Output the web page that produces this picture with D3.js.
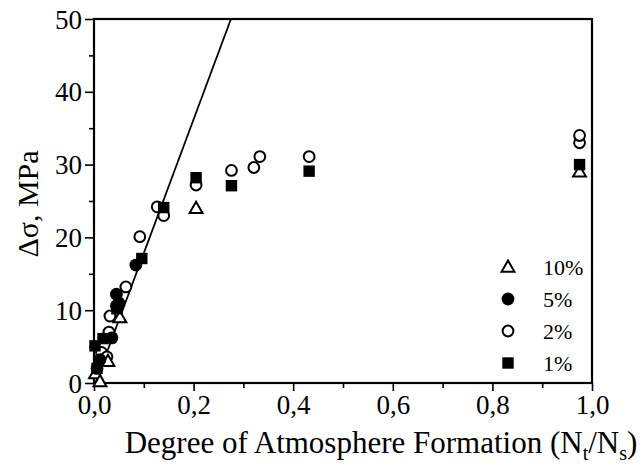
<!DOCTYPE html>
<html>
<head>
<meta charset="utf-8">
<script src="https://cdn.jsdelivr.net/npm/d3@7"></script>
</head>
<body style="margin:0;background:#fff">
<svg id="chart" width="643" height="468"></svg>
<script>
// series data: [x, y]
const tri10 = [[0.003, 1.3], [0.012, 0.2], [0.028, 3], [0.052, 9], [0.205, 24], [0.975, 29]];
const dot5 = [[0.006, 2], [0.012, 3.2], [0.036, 6.2], [0.045, 12.2], [0.05, 11], [0.084, 16.2]];
const circ2 = [[0.015, 4.2], [0.026, 3.6], [0.03, 7], [0.032, 9.2], [0.045, 10.6], [0.064, 13.2],
  [0.092, 20.1], [0.127, 24.2], [0.14, 23], [0.205, 27.2], [0.276, 29.2], [0.321, 29.6],
  [0.333, 31.1], [0.432, 31.1], [0.975, 33], [0.975, 34]];
const sq1 = [[0.002, 5.1], [0.006, 2], [0.018, 6.1], [0.046, 10.2], [0.096, 17.1], [0.14, 24.1],
  [0.205, 28.2], [0.276, 27.1], [0.432, 29.1], [0.975, 30]];
const fitLine = [[0.003, 0], [0.275, 50]];

const xTicks = [0, 0.2, 0.4, 0.6, 0.8, 1.0];
const yTicks = [0, 10, 20, 30, 40, 50];
const legendLabels = ["10%", "5%", "2%", "1%"];

const serif = "Liberation Serif";
const svg = d3.select("#chart");
const plotL = 94, plotR = 592, plotT = 19, plotB = 383;

const x = d3.scaleLinear().domain([0, 1]).range([plotL, plotR]);
const y = d3.scaleLinear().domain([0, 50]).range([plotB, plotT]);

const fmt = d => d3.format(".1f")(d).replace(".", ",");

// minor ticks
const xAxisMinor = d3.axisBottom(x).tickValues(d3.range(0.1, 1, 0.2)).tickSize(5).tickFormat("");
const yAxisMinor = d3.axisLeft(y).tickValues(d3.range(5, 50, 10)).tickSize(5).tickFormat("");
svg.append("g").attr("transform", `translate(0,${plotB})`).call(xAxisMinor);
svg.append("g").attr("transform", `translate(${plotL},0)`).call(yAxisMinor);

// major axes
const xAxis = d3.axisBottom(x).tickValues(xTicks).tickSize(8).tickPadding(4).tickFormat(fmt);
const yAxis = d3.axisLeft(y).tickValues(yTicks).tickSize(9).tickPadding(3).tickFormat(d3.format("d"));
svg.append("g").attr("class", "xa").attr("transform", `translate(0,${plotB})`).call(xAxis);
svg.append("g").attr("class", "ya").attr("transform", `translate(${plotL},0)`).call(yAxis);

svg.selectAll(".domain").remove();
svg.selectAll("g").attr("font-family", serif);
svg.selectAll(".tick line").attr("stroke", "#000").attr("stroke-width", 1.6);
svg.selectAll(".tick text").attr("font-family", serif).attr("font-size", 27).attr("fill", "#000");
svg.selectAll(".ya .tick text").attr("dy", "0.34em");

// frame
svg.append("rect")
  .attr("x", plotL).attr("y", plotT)
  .attr("width", plotR - plotL).attr("height", plotB - plotT)
  .attr("fill", "none").attr("stroke", "#000").attr("stroke-width", 2.2);

// fitted line
svg.append("path")
  .datum(fitLine)
  .attr("d", d3.line().x(d => x(d[0])).y(d => y(d[1])))
  .attr("fill", "none").attr("stroke", "#000").attr("stroke-width", 1.8);

const triSym = d3.symbol().type(d3.symbolTriangle).size(72);
const sqSym = d3.symbol().type(d3.symbolSquare).size(130);

function marker(g, kind, cx, cy) {
  if (kind === "tri") {
    g.append("path").attr("d", triSym).attr("transform", `translate(${cx},${cy + 1})`)
      .attr("fill", "#fff").attr("stroke", "#000").attr("stroke-width", 2);
  } else if (kind === "sq") {
    g.append("path").attr("d", sqSym).attr("transform", `translate(${cx},${cy})`).attr("fill", "#000");
  } else if (kind === "dot") {
    g.append("circle").attr("cx", cx).attr("cy", cy).attr("r", 6.4).attr("fill", "#000");
  } else {
    g.append("circle").attr("cx", cx).attr("cy", cy).attr("r", 5.4)
      .attr("fill", "#fff").attr("stroke", "#000").attr("stroke-width", 2);
  }
}

function drawSeries(data, kind) {
  const g = svg.append("g");
  data.forEach(d => marker(g, kind, x(d[0]), y(d[1])));
}
drawSeries(circ2, "circ");
drawSeries(tri10, "tri");
drawSeries(dot5, "dot");
drawSeries(sq1, "sq");

// legend
const legendY = [267, 299, 331, 363];
const kinds = ["tri", "dot", "circ", "sq"];
const leg = svg.append("g");
legendLabels.forEach((lab, i) => {
  marker(leg, kinds[i], 508, legendY[i]);
  leg.append("text").attr("x", 543).attr("y", legendY[i]).attr("dy", "0.35em")
    .attr("font-family", serif).attr("font-size", 22).text(lab);
});

// axis titles
const xt = svg.append("text").attr("x", 381).attr("y", 453).attr("text-anchor", "middle")
  .attr("font-family", serif).attr("font-size", 31);
xt.append("tspan").text("Degree of Atmosphere Formation (N");
xt.append("tspan").attr("font-size", 20).attr("dy", 7).text("t");
xt.append("tspan").attr("dy", -7).text("/N");
xt.append("tspan").attr("font-size", 20).attr("dy", 7).text("s");
xt.append("tspan").attr("dy", -7).text(")");

svg.append("text")
  .attr("transform", "translate(38,204) rotate(-90)")
  .attr("text-anchor", "middle")
  .attr("font-family", serif).attr("font-size", 30)
  .text("Δσ, MPa");
</script>
</body>
</html>
